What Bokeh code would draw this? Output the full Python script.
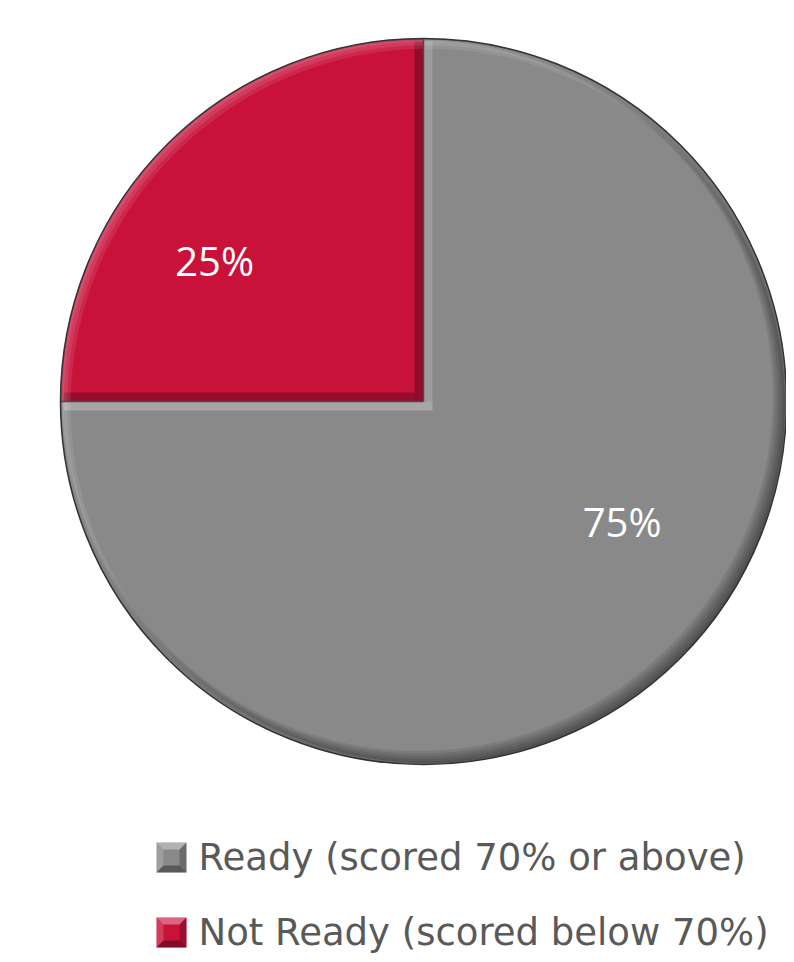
import numpy as np
from bokeh.plotting import figure
from bokeh.models import Range1d, ColumnDataSource
from bokeh.core.properties import value
from bokeh.embed import file_html
from bokeh.resources import INLINE

# ---- data ----
categories = ["Not Ready (scored below 70%)", "Ready (scored 70% or above)"]
shares = [25, 75]
colors = ["#C8123A", "#898989"]
legend_order = [1, 0]  # legend lists Ready first

W, H = 786, 954
p = figure(width=W, height=H, output_backend="svg", toolbar_location=None,
           x_range=Range1d(0, W), y_range=Range1d(0, H), min_border=0)
p.axis.visible = False
p.grid.visible = False
p.outline_line_color = None
p.background_fill_color = "white"

cx, cy, R = 423, H - 401, 363
vals = np.array(shares, dtype=float)
frac = vals / vals.sum()
ends = np.pi / 2 + 2 * np.pi * np.cumsum(frac)
starts = ends - 2 * np.pi * frac

src = ColumnDataSource(dict(start=starts, end=ends, color=colors,
                            x=[cx] * len(vals), y=[cy] * len(vals)))
p.wedge(x="x", y="y", radius=R, start_angle="start", end_angle="end",
        fill_color="color", line_color=None, source=src)

# bevel strips along the radial edges
bw = 9
p.quad(left=[cx - bw], right=[cx], bottom=[cy], top=[cy + R - 3],
       fill_color="black", fill_alpha=0.28, line_color=None)
p.quad(left=[cx - R + 3], right=[cx - bw], bottom=[cy], top=[cy + bw],
       fill_color="black", fill_alpha=0.25, line_color=None)
p.quad(left=[cx], right=[cx + bw], bottom=[cy], top=[cy + R - 3],
       fill_color="white", fill_alpha=0.16, line_color=None)
p.quad(left=[cx - R + 3], right=[cx + bw], bottom=[cy - bw], top=[cy],
       fill_color="white", fill_alpha=0.25, line_color=None)

# rim bevel as crescents: dark toward bottom-right, light toward top-left
th = np.linspace(0, 2 * np.pi, 361)
def crescent(d, toward_deg):
    ux, uy = np.cos(np.deg2rad(toward_deg)), np.sin(np.deg2rad(toward_deg))
    ox, oy = cx + R * np.cos(th), cy + R * np.sin(th)
    ix = cx + d * ux + (R - d) * np.cos(th[::-1])
    iy = cy + d * uy + (R - d) * np.sin(th[::-1])
    return list(np.r_[ox, ix]), list(np.r_[oy, iy])

for d in [2, 3.5, 5, 6.5, 8]:
    xs, ys = crescent(d, 135)
    p.patch(xs, ys, fill_color="black", fill_alpha=0.09, line_color=None)
for d in [2, 4, 6]:
    xs, ys = crescent(d, -45)
    p.patch(xs, ys, fill_color="white", fill_alpha=0.09, line_color=None)

# dividing lines and outline
p.segment(x0=[cx, cx - R], y0=[cy + R, cy], x1=[cx, cx], y1=[cy, cy],
          line_color="#4a4a4a", line_width=1.5)
p.circle(x=[cx], y=[cy], radius=R, fill_color=None, line_color="#333333",
         line_width=1.5)

# labels
mids = (starts + ends) / 2
lab_r = [252, 232]
lab_off = [np.deg2rad(11.0), np.deg2rad(13.9)]
lx = [cx + r * np.cos(m + o) for r, m, o in zip(lab_r, mids, lab_off)]
ly = [cy + r * np.sin(m + o) for r, m, o in zip(lab_r, mids, lab_off)]
p.text(x=lx, y=ly, text=[f"{v:.0f}%" for v in frac * 100],
       text_color="white", text_font=value("Open Sans"), text_font_size="40px",
       text_align="center", text_baseline="middle")

# legend
ly0 = H - 857
step = 75
sq = 30
for i, idx in enumerate(legend_order):
    yy = ly0 - i * step
    x0, x1 = 171 - sq / 2, 171 + sq / 2
    y0, y1 = yy - sq / 2, yy + sq / 2
    b = 7
    base = colors[idx]
    p.rect(x=[171], y=[yy], width=sq, height=sq, fill_color=base,
           line_color=None)
    p.patch([x0, x1, x1 - b, x0 + b], [y1, y1, y1 - b, y1 - b],
            fill_color="white", fill_alpha=0.35, line_color=None)
    p.patch([x0, x0 + b, x0 + b, x0], [y0, y0 + b, y1 - b, y1],
            fill_color="white", fill_alpha=0.18, line_color=None)
    p.patch([x0, x1, x1 - b, x0 + b], [y0, y0, y0 + b, y0 + b],
            fill_color="black", fill_alpha=0.35, line_color=None)
    p.patch([x1, x1 - b, x1 - b, x1], [y0, y0 + b, y1 - b, y1],
            fill_color="black", fill_alpha=0.22, line_color=None)
    p.text(x=[198], y=[yy], text=[categories[idx]], text_color="#595959",
           text_font=value("DejaVu Sans"), text_font_size="37px",
           text_align="left", text_baseline="middle")

open("out.html", "w").write(file_html(p, INLINE))
